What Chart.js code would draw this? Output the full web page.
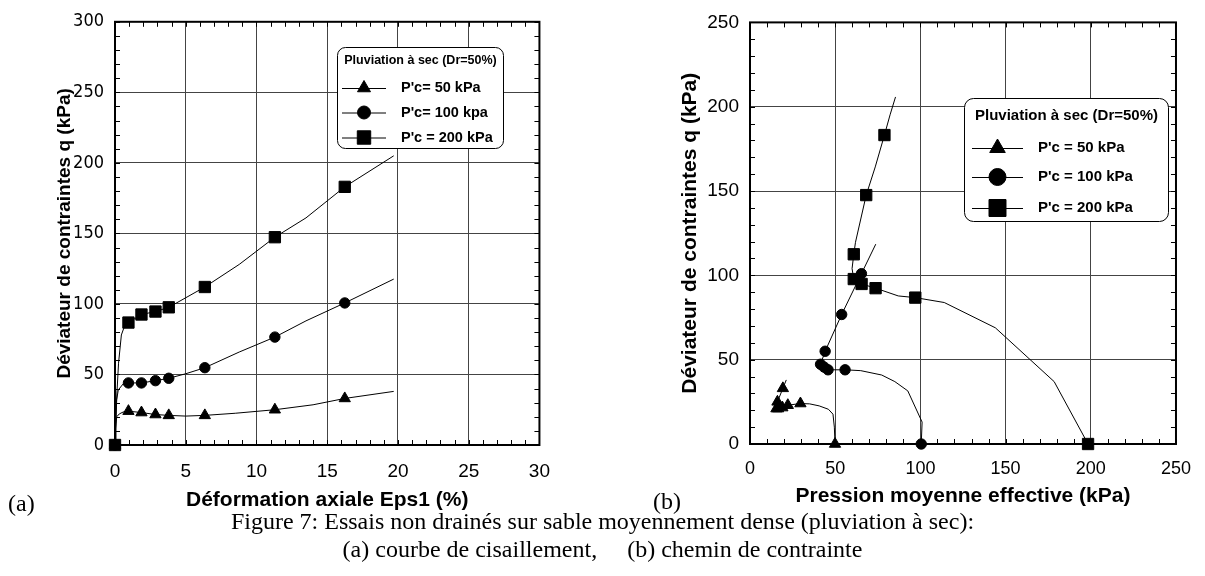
<!DOCTYPE html>
<html lang="fr">
<head>
<meta charset="UTF-8">
<title>Figure 7 - Essais non drainés</title>
<script src="https://cdn.jsdelivr.net/npm/chart.js@4"></script>
<style>
  body { margin: 0; background: #fff; width: 1205px; height: 576px; position: relative; overflow: hidden;
         font-family: "Liberation Serif", "Times New Roman", serif; color: #000; }
  #wrapA { position: absolute; left: 0; top: 0; width: 565px; height: 520px; }
  #wrapB { position: absolute; left: 620px; top: 0; width: 585px; height: 520px; }
  .lab { position: absolute; font-size: 24px; }
  .caption { position: absolute; left: 0; width: 1205px; text-align: center; font-size: 24px; white-space: pre; }
</style>
</head>
<body>
<div id="wrapA"><canvas id="chartA"></canvas></div>
<div id="wrapB"><canvas id="chartB"></canvas></div>
<div class="lab" style="left:8px;top:490px">(a)</div>
<div class="lab" style="left:653px;top:488px">(b)</div>
<div class="caption" style="top:508px">Figure 7: Essais non drainés sur sable moyennement dense (pluviation à sec):</div>
<div class="caption" style="top:536px">(a) courbe de cisaillement,     (b) chemin de contrainte</div>
<script>
// ---- (a) courbe de cisaillement : q (kPa) vs Eps1 (%) ----
// points marqués (même déformation pour les trois essais)
const epsMark = [0, 0.95, 1.87, 2.86, 3.8, 6.35, 11.3, 16.24];
const qMark50 = [0, 24, 23, 21.6, 21, 21, 25, 33];
const qMark100 = [0, 44, 44, 45.6, 47.3, 54.8, 76.5, 100.7];
const qMark200 = [0, 86.8, 92.5, 94.6, 97.6, 112, 147.3, 183];
// courbes continues
const epsCurve50 = [0, 0.05, 0.12, 0.3, 0.6, 0.95, 1.87, 2.86, 3.8, 5, 6.35, 8.5, 11.3, 14, 16.24, 19.7];
const qCurve50 = [0, 12, 20, 22, 23.5, 24, 23, 21.6, 21, 20.5, 21, 22.5, 25, 28.5, 33, 38];
const epsCurve100 = [0, 0.06, 0.12, 0.23, 0.59, 0.95, 1.87, 2.86, 3.8, 5, 6.35, 8.78, 11.3, 13.5, 16.24, 19.7];
const qCurve100 = [0, 15, 32, 39, 43.5, 44, 44, 45.6, 47.3, 50.5, 54.8, 65.9, 76.5, 88, 100.7, 117.6];
const epsCurve200 = [0, 0.1, 0.25, 0.45, 0.7, 0.95, 1.87, 2.86, 3.8, 6.35, 8.78, 11.3, 13.5, 16.24, 19.7];
const qCurve200 = [0, 30, 58, 78, 85, 86.8, 92.5, 94.6, 97.6, 112, 128, 147.3, 161, 183, 205];

// ---- (b) chemin de contrainte : q (kPa) vs p' (kPa) ----
const pMark50 = [49.9, 29.6, 22.2, 19, 16.5, 15.5, 16.1, 19.3];
const pMark100 = [100.5, 55.8, 45.8, 43.5, 41.4, 44.1, 53.8, 65.4];
const pMark200 = [198.4, 97, 73.7, 65.5, 60.9, 60.9, 68.2, 78.9];
const qMarkB50 = [0, 24, 23, 21.6, 21, 21, 25, 33];
const qMarkB100 = [0, 44, 44, 45.6, 47.3, 55, 76.8, 101];
const qMarkB200 = [0, 86.8, 92.4, 94.9, 97.8, 112.5, 147.6, 183.2];
const pCurve50 = [49.9, 49.5, 48.7, 46, 40.6, 35, 29.6, 22.2, 19, 16.5, 15.5, 16.1, 19.3, 21.3];
const qCurveB50 = [0, 10, 17.7, 20.6, 22.6, 23.8, 24, 23, 21.6, 21, 21, 25, 33, 38];
const pCurve100 = [100.5, 101, 92.6, 85, 77.3, 65, 55.8, 45.8, 43.5, 41.4, 44.1, 53.8, 65.4, 73.8];
const qCurveB100 = [0, 13, 31.5, 37, 40.9, 43.5, 44, 44, 45.6, 47.3, 55, 76.8, 101, 118.5];
const pCurve200 = [198.4, 178.5, 144, 114, 97, 87, 73.7, 65.5, 60.9, 59.9, 60.9, 61.9, 68.2, 73.5, 78.9, 82.2, 85.4];
const qCurveB200 = [0, 37, 68.9, 83.9, 86.8, 87.8, 92.4, 94.9, 97.8, 104, 112.5, 119.6, 147.6, 164.3, 183.2, 195.2, 205.8];

const labelsA = ["P'c= 50 kPa", "P'c= 100 kpa", "P'c = 200 kPa"];
const labelsB = ["P'c = 50 kPa", "P'c = 100 kPa", "P'c = 200 kPa"];
const legendTitle = 'Pluviation à sec (Dr=50%)';

const SANS = '"Liberation Sans", Arial, sans-serif';
const NARROW = '"Liberation Sans Narrow", "Arial Narrow", "DejaVu Sans Condensed", sans-serif';
Chart.defaults.font.family = SANS;
Chart.defaults.color = '#000';

function pts(xs, ys) {
    return xs.map((x, i) => ({x: x, y: ys[i]}));
}

function markerSet(label, xs, ys, style, r) {
    return {label: label, data: pts(xs, ys), showLine: false, pointStyle: style, pointRadius: r,
            backgroundColor: '#000', borderColor: '#000', borderWidth: 1, clip: false};
}

function curveSet(xs, ys) {
    return {data: pts(xs, ys), showLine: true, pointRadius: 0, borderColor: '#000', borderWidth: 1,
            tension: 0, fill: false};
}

// frame + inside minor ticks, drawn under the data
const frameTicks = {
    id: 'frameTicks',
    beforeDatasetsDraw(chart, args, o) {
        const {ctx, chartArea: a, scales: {x, y}} = chart;
        ctx.save();
        ctx.strokeStyle = '#000';
        ctx.lineWidth = 1;
        ctx.beginPath();
        for (let v = x.min; v <= x.max + 1e-9; v += o.xMinor) {
            const px = Math.round(x.getPixelForValue(v)) + 0.5;
            ctx.moveTo(px, a.bottom); ctx.lineTo(px, a.bottom - o.len);
            ctx.moveTo(px, a.top); ctx.lineTo(px, a.top + o.len);
        }
        for (let v = y.min; v <= y.max + 1e-9; v += o.yMinor) {
            const py = Math.round(y.getPixelForValue(v)) + 0.5;
            ctx.moveTo(a.left, py); ctx.lineTo(a.left + o.len, py);
            ctx.moveTo(a.right, py); ctx.lineTo(a.right - o.len, py);
        }
        ctx.stroke();
        ctx.lineWidth = 2;
        ctx.strokeRect(a.left, a.top, a.right - a.left, a.bottom - a.top);
        ctx.restore();
    }
};

function drawMarker(ctx, style, r, cx, cy) {
    if (Chart.helpers && Chart.helpers.drawPoint) {
        Chart.helpers.drawPoint(ctx, {pointStyle: style, radius: r, borderWidth: 1, rotation: 0}, cx, cy);
        return;
    }
    ctx.beginPath();
    if (style === 'circle') ctx.arc(cx, cy, r, 0, Math.PI * 2);
    else if (style === 'rect') { const s = r * Math.SQRT1_2; ctx.rect(cx - s, cy - s, 2 * s, 2 * s); }
    else { ctx.moveTo(cx, cy - r); ctx.lineTo(cx + r * 0.866, cy + r / 2); ctx.lineTo(cx - r * 0.866, cy + r / 2); ctx.closePath(); }
    ctx.fill(); ctx.stroke();
}

// rounded legend box in the plot
const boxLegend = {
    id: 'boxLegend',
    afterDraw(chart, args, o) {
        const ctx = chart.ctx;
        ctx.save();
        ctx.beginPath();
        ctx.roundRect(o.x, o.y, o.w, o.h, o.r);
        ctx.fillStyle = '#fff';
        ctx.fill();
        ctx.lineWidth = 1;
        ctx.strokeStyle = '#000';
        ctx.stroke();
        ctx.fillStyle = '#000';
        ctx.textBaseline = 'middle';
        ctx.textAlign = 'center';
        ctx.font = 'bold ' + o.titleSize + 'px ' + SANS;
        ctx.fillText(legendTitle, o.x + o.w / 2, o.titleY);
        ctx.textAlign = 'left';
        ctx.font = 'bold ' + o.itemSize + 'px ' + SANS;
        const sets = chart.data.datasets.filter(d => d.label);
        sets.forEach((d, i) => {
            const yy = o.itemY[i];
            ctx.beginPath();
            ctx.moveTo(o.lineX0, yy + 0.5);
            ctx.lineTo(o.lineX1, yy + 0.5);
            ctx.stroke();
            drawMarker(ctx, d.pointStyle, o.markR[i], (o.lineX0 + o.lineX1) / 2, yy);
            ctx.fillText(d.label, o.textX, yy);
        });
        ctx.restore();
    }
};

function axes(c) {
    return {
        x: {
            type: 'linear', min: c.xMin, max: c.xMax,
            ticks: {stepSize: c.xStep, font: {size: c.xTickSize}, padding: c.xPad, color: '#000'},
            grid: {color: '#444', lineWidth: 1, drawTicks: false},
            border: {display: false},
            title: {display: true, text: c.xTitle, color: '#000', font: {size: 21, weight: 'bold'},
                    padding: {top: 0, bottom: c.xTitlePad}},
            afterFit(s) { s.height = c.xHeight; }
        },
        y: {
            type: 'linear', min: c.yMin, max: c.yMax,
            ticks: {stepSize: c.yStep, font: c.yFont, padding: 11, color: '#000'},
            grid: {color: '#444', lineWidth: 1, drawTicks: false},
            border: {display: false},
            title: {display: true, text: 'Déviateur de contraintes q (kPa)', color: '#000',
                    font: {size: c.yTitleSize, weight: 'bold'}, padding: {top: c.yTitlePad, bottom: 0}},
            afterFit(s) { s.width = c.yWidth; }
        }
    };
}

new Chart(document.getElementById('chartA'), {
    type: 'scatter',
    data: {
        datasets: [
            markerSet(labelsA[0], epsMark, qMark50, 'triangle', 6.5),
            markerSet(labelsA[1], epsMark, qMark100, 'circle', 5.2),
            markerSet(labelsA[2], epsMark, qMark200, 'rect', 8),
            curveSet(epsCurve50, qCurve50),
            curveSet(epsCurve100, qCurve100),
            curveSet(epsCurve200, qCurve200)
        ]
    },
    options: {
        responsive: true, maintainAspectRatio: false, animation: false, events: [],
        layout: {padding: {top: 20, right: 23, left: 0, bottom: 0}},
        scales: axes({xMin: 0, xMax: 30, xStep: 5, xPad: 15, xTickSize: 19, xTitle: 'Déformation axiale Eps1 (%)',
                      xTitlePad: 7, xHeight: 75, yMin: 0, yMax: 300, yStep: 50,
                      yFont: {family: NARROW, size: 18}, yTitleSize: 19, yTitlePad: 53, yWidth: 115}),
        plugins: {
            legend: {display: false}, tooltip: {enabled: false},
            frameTicks: {xMinor: 1, yMinor: 10, len: 5},
            boxLegend: {x: 337.5, y: 47.5, w: 166, h: 101, r: 8, titleSize: 12.5, titleY: 61,
                        itemSize: 14.5, itemY: [88, 112.5, 137.5], lineX0: 342, lineX1: 386, textX: 401,
                        markR: [7.5, 6.5, 9.5]}
        }
    },
    plugins: [frameTicks, boxLegend]
});

new Chart(document.getElementById('chartB'), {
    type: 'scatter',
    data: {
        datasets: [
            markerSet(labelsB[0], pMark50, qMarkB50, 'triangle', 6.5),
            markerSet(labelsB[1], pMark100, qMarkB100, 'circle', 5.2),
            markerSet(labelsB[2], pMark200, qMarkB200, 'rect', 8),
            curveSet(pCurve50, qCurveB50),
            curveSet(pCurve100, qCurveB100),
            curveSet(pCurve200, qCurveB200)
        ]
    },
    options: {
        responsive: true, maintainAspectRatio: false, animation: false, events: [],
        layout: {padding: {top: 12, right: 24, left: 0, bottom: 0}},
        scales: axes({xMin: 0, xMax: 250, xStep: 50, xPad: 14, xTickSize: 18, xTitle: 'Pression moyenne effective (kPa)',
                      xTitlePad: 11, xHeight: 76, yMin: 0, yMax: 250, yStep: 50,
                      yFont: {size: 19}, yTitleSize: 21, yTitlePad: 58, yWidth: 130}),
        plugins: {
            legend: {display: false}, tooltip: {enabled: false},
            frameTicks: {xMinor: 10, yMinor: 10, len: 5},
            boxLegend: {x: 344.5, y: 98.5, w: 204, h: 123, r: 9, titleSize: 15, titleY: 115.5,
                        itemSize: 15, itemY: [148, 177, 208], lineX0: 352, lineX1: 403, textX: 418,
                        markR: [9, 8.5, 12]}
        }
    },
    plugins: [frameTicks, boxLegend]
});
</script>
</body>
</html>
